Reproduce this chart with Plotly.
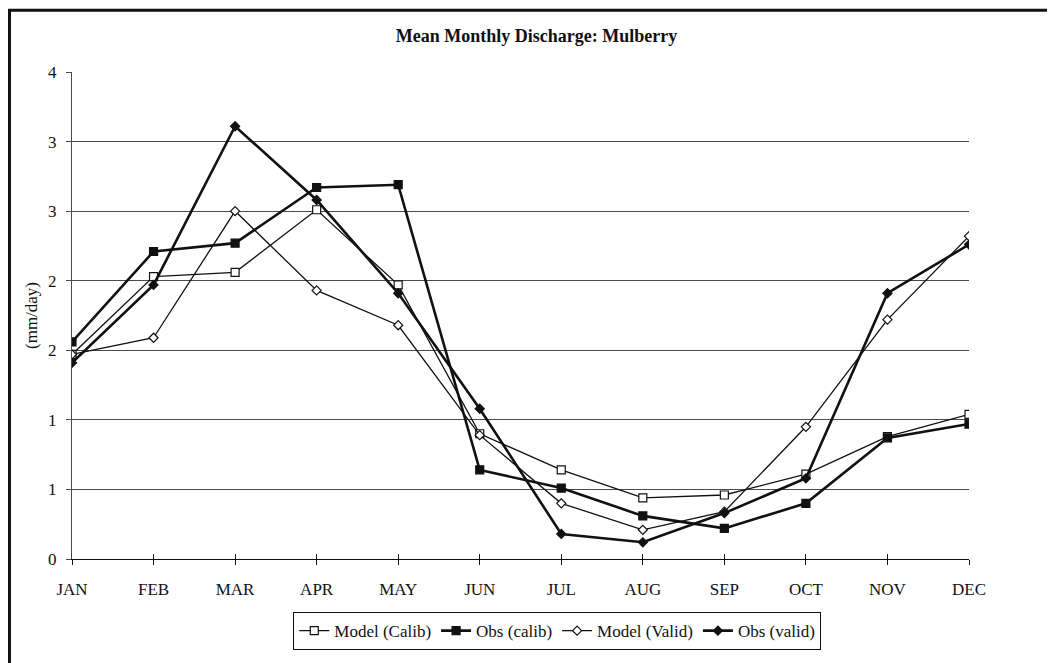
import plotly.graph_objects as go

'''monthly discharge, mm/day, read off the chart'''
MONTHS = ["JAN", "FEB", "MAR", "APR", "MAY", "JUN",
          "JUL", "AUG", "SEP", "OCT", "NOV", "DEC"]

model_calib = [1.47, 2.03, 2.06, 2.51, 1.97, 0.90, 0.64, 0.44, 0.46, 0.61, 0.88, 1.04]
obs_calib   = [1.56, 2.21, 2.27, 2.67, 2.69, 0.64, 0.51, 0.31, 0.22, 0.40, 0.87, 0.97]
model_valid = [1.47, 1.59, 2.50, 1.93, 1.68, 0.89, 0.40, 0.21, 0.34, 0.95, 1.72, 2.32]
obs_valid   = [1.41, 1.97, 3.11, 2.58, 1.91, 1.08, 0.18, 0.12, 0.33, 0.58, 1.91, 2.26]

Y_TICKS       = [0, 0.5, 1.0, 1.5, 2.0, 2.5, 3.0, 3.5]
Y_TICK_LABELS = ["0", "1", "1", "2", "2", "3", "3", "4"]

FONT  = "Liberation Serif, Times New Roman, serif"
INK   = "#111111"
GRID  = "#4a4a4a"

fig = go.Figure()

'''thin = model, thick = observed; squares = calibration, diamonds = validation'''
series = [
    ("Model (Calib)", model_calib, 1.3, "square", "white", 8),
    ("Obs (calib)",   obs_calib,   2.6, "square", INK,     8),
    ("Model (Valid)", model_valid, 1.3, "diamond", "white", 7),
    ("Obs (valid)",   obs_valid,   2.6, "diamond", INK,    7),
]
for name, vals, lw, sym, fill, size in series:
    fig.add_trace(go.Scatter(
        x=MONTHS, y=vals,
        name=name,
        mode="lines+markers",
        line=dict(color=INK, width=lw),
        marker=dict(symbol=sym, size=size, color=fill, line=dict(color=INK, width=1.2)),
    ))

'''invisible trace on a second x axis just to get ticks crossing the axis line'''
fig.add_trace(go.Scatter(x=MONTHS, y=model_calib, xaxis="x2", showlegend=False,
                         mode="markers", marker=dict(opacity=0), hoverinfo="skip"))

fig.update_layout(
    width=1055, height=663,
    plot_bgcolor="white", paper_bgcolor="white",
    font=dict(family=FONT, color=INK, size=17),
    margin=dict(l=64, r=94, t=63.5, b=111.5),
    title=dict(text="<b>Mean Monthly Discharge: Mulberry</b>",
               x=0.501, xref="container", xanchor="center",
               y=0.958, yref="container", yanchor="middle",
               font=dict(family=FONT, size=18, color=INK)),
    showlegend=True,
    legend=dict(orientation="h", x=0.541, xanchor="center", y=-0.109, yanchor="top",
                bordercolor=INK, borderwidth=1, bgcolor="white",
                font=dict(family=FONT, size=17, color=INK),
                itemwidth=30, tracegroupgap=0),
    xaxis=dict(type="category", range=[0, 11], showgrid=False, zeroline=False,
               showline=True, linecolor=INK, linewidth=1,
               ticks="outside", ticklen=5, tickcolor=INK, tickwidth=1,
               ticklabelstandoff=10, tickfont=dict(size=17)),
    xaxis2=dict(type="category", range=[0, 11], overlaying="x", anchor="y", side="bottom",
                showgrid=False, zeroline=False, showline=False,
                ticks="inside", ticklen=5, tickcolor=INK, tickwidth=1,
                showticklabels=False),
    yaxis=dict(range=[0, 3.5], tickvals=Y_TICKS, ticktext=Y_TICK_LABELS,
               showgrid=True, gridcolor=GRID, gridwidth=1, zeroline=False,
               showline=True, linecolor=GRID, linewidth=1,
               ticks="outside", ticklen=5, tickcolor=GRID,
               ticklabelstandoff=6, tickfont=dict(size=17), automargin=False,
               title=dict(text="(mm/day)", font=dict(size=17), standoff=6)),
)

'''frame around the whole chart (right/bottom edges fall off the page)'''
fig.add_shape(type="rect", xref="paper", yref="paper",
              x0=-0.0697, x1=1.15, y0=-0.3, y1=1.127,
              line=dict(color=INK, width=3), layer="above")

fig.write_html("out.html")
